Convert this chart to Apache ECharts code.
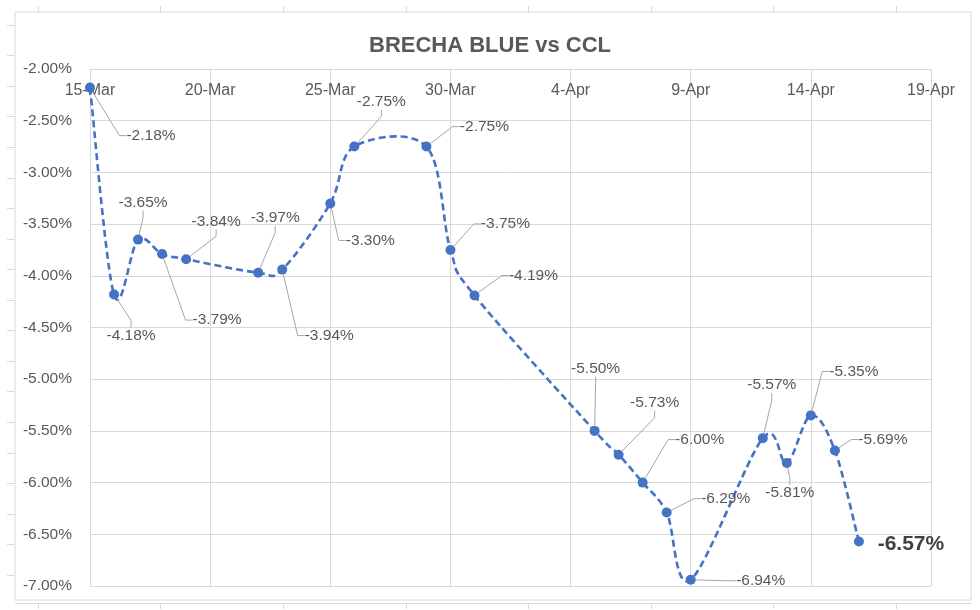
<!DOCTYPE html>
<html>
<head>
<meta charset="utf-8">
<script src="https://cdn.jsdelivr.net/npm/echarts@6/dist/echarts.min.js"></script>
<style>html,body{margin:0;padding:0;background:#fff;}#c{width:980px;height:610px;}</style>
</head>
<body>
<div id="c"></div>
<script>
// ---- data ----
const title = 'BRECHA BLUE vs CCL';
const dates = ['2021-03-15','2021-03-16','2021-03-17','2021-03-18','2021-03-19','2021-03-22','2021-03-23','2021-03-25','2021-03-26','2021-03-29','2021-03-30','2021-03-31','2021-04-05','2021-04-06','2021-04-07','2021-04-08','2021-04-09','2021-04-12','2021-04-13','2021-04-14','2021-04-15','2021-04-16'];
const values = [-2.18,-4.18,-3.65,-3.79,-3.84,-3.97,-3.94,-3.30,-2.75,-2.75,-3.75,-4.19,-5.50,-5.73,-6.00,-6.29,-6.94,-5.57,-5.81,-5.35,-5.69,-6.57];
const xStart = '2021-03-15';
const xEnd = '2021-04-19';
const months = ['Jan','Feb','Mar','Apr','May','Jun','Jul','Aug','Sep','Oct','Nov','Dec'];

// ---- layout (label offsets in px, not data) ----
const labelOffsets = [[61,48],[17,41],[5,-37],[55,66],[30,-38],[17,-55],[47,66],[40,37],[27,-45],[58,-20],[55,-26],[59,-20],[1,-62],[36,-52],[57,-43],[59,-14],[70,1],[9,-53],[3,30],[43,-44],[48,-11],[52,3]];

const DAY = 86400000;
function ts(s){const p=s.split('-');return Date.UTC(+p[0],+p[1]-1,+p[2]);}
function fmtDate(v){const d=new Date(v);return d.getUTCDate()+'-'+months[d.getUTCMonth()];}

const last = values.length-1;
const seriesData = dates.map((d,i)=>{
  const item = {value:[ts(d), values[i]]};
  if(i===last){
    item.label = {fontSize:21, fontWeight:'bold', color:'#404040'};
    item.labelLine = {show:false};
  }
  return item;
});
const curveData = dates.map((d,i)=>[ts(d), values[i]]);

const gray = '#595959';
const gridC = '#d9d9d9';
const blue = '#4472C4';
const FONT = 'Liberation Sans';

// decorative outer frame ticks
const topTicks = [], leftTicks = [];
for(let i=0;i<8;i++) topTicks.push(23 + i*122.6);
for(let i=0;i<19;i++) leftTicks.push(13 + i*30.56);

// Excel-like smoothed curve through the data points (Catmull-Rom, pixel space)
function renderCurve(params, api){
  if(params.dataIndex !== 0) return null;
  const P = curveData.map(v=>api.coord(v));
  const n = P.length, f = 1/6;
  let d = 'M'+P[0][0]+' '+P[0][1];
  for(let i=0;i<n-1;i++){
    const p0 = P[Math.max(i-1,0)], p1 = P[i], p2 = P[i+1], p3 = P[Math.min(i+2,n-1)];
    const c1 = [p1[0]+(p2[0]-p0[0])*f, p1[1]+(p2[1]-p0[1])*f];
    const c2 = [p2[0]-(p3[0]-p1[0])*f, p2[1]-(p3[1]-p1[1])*f];
    d += ' C'+c1[0]+' '+c1[1]+' '+c2[0]+' '+c2[1]+' '+p2[0]+' '+p2[1];
  }
  return {type:'path', shape:{pathData:d}, style:{fill:null, stroke:blue, lineWidth:2.6, lineDash:[7,4], lineCap:'butt'}};
}

const chart = echarts.init(document.getElementById('c'), null, {renderer:'canvas'});
chart.setOption({
  animation:false,
  backgroundColor:'#fff',
  textStyle:{fontFamily:FONT},
  title:{text:title,left:'center',top:30,textStyle:{fontFamily:FONT,fontSize:22,fontWeight:'bold',color:gray}},
  grid:[
    {left:90,right:49,top:69,bottom:24,show:false},
    {left:15,right:9,top:12,bottom:10,show:true,borderColor:gridC,borderWidth:1,backgroundColor:'transparent'}
  ],
  xAxis:[
    {type:'value',gridIndex:0,position:'top',min:ts(xStart),max:ts(xEnd),interval:5*DAY,
     axisLine:{show:true,lineStyle:{color:gridC}},axisTick:{show:false},
     axisLabel:{inside:true,margin:14,color:gray,fontSize:16,fontFamily:FONT,formatter:fmtDate},
     splitLine:{show:true,lineStyle:{color:gridC}}},
    {type:'value',gridIndex:1,position:'top',min:0,max:956,
     axisLine:{show:false},axisLabel:{show:false},splitLine:{show:false},
     axisTick:{show:true,length:6,customValues:topTicks,lineStyle:{color:gridC}}},
    {type:'value',gridIndex:1,position:'bottom',offset:3,min:0,max:956,
     axisLine:{show:true,lineStyle:{color:gridC}},axisLabel:{show:false},splitLine:{show:false},
     axisTick:{show:true,length:6,customValues:topTicks,lineStyle:{color:gridC}}}
  ],
  yAxis:[
    {type:'value',gridIndex:0,min:-7,max:-2,interval:0.5,
     axisLine:{show:true,lineStyle:{color:gridC}},axisTick:{show:false},
     axisLabel:{margin:18,color:gray,fontSize:15.5,fontFamily:FONT,formatter:v=>v.toFixed(2)+'%'},
     splitLine:{show:true,lineStyle:{color:gridC}}},
    {type:'value',gridIndex:1,min:0,max:588,inverse:true,
     axisLine:{show:false},axisLabel:{show:false},splitLine:{show:false},
     axisTick:{show:true,length:8,customValues:leftTicks,lineStyle:{color:gridC}}}
  ],
  series:[{
    type:'custom',xAxisIndex:0,yAxisIndex:0,
    data:curveData,encode:{x:0,y:1},
    renderItem:renderCurve,
    clip:false,silent:true,z:2
  },{
    type:'line',xAxisIndex:0,yAxisIndex:0,
    data:seriesData,
    smooth:false,
    symbol:'circle',symbolSize:10,
    itemStyle:{color:blue},
    lineStyle:{width:0,opacity:0},
    z:3,
    label:{show:true,position:'inside',color:gray,fontSize:15.5,fontFamily:FONT,
      formatter:p=>p.value[1].toFixed(2)+'%'},
    labelLine:{show:true,length2:7,lineStyle:{color:'#a6a6a6',width:1}},
    labelLayout:function(p){const o=labelOffsets[p.dataIndex];return {dx:o[0],dy:o[1]};}
  }]
});
</script>
</body>
</html>
